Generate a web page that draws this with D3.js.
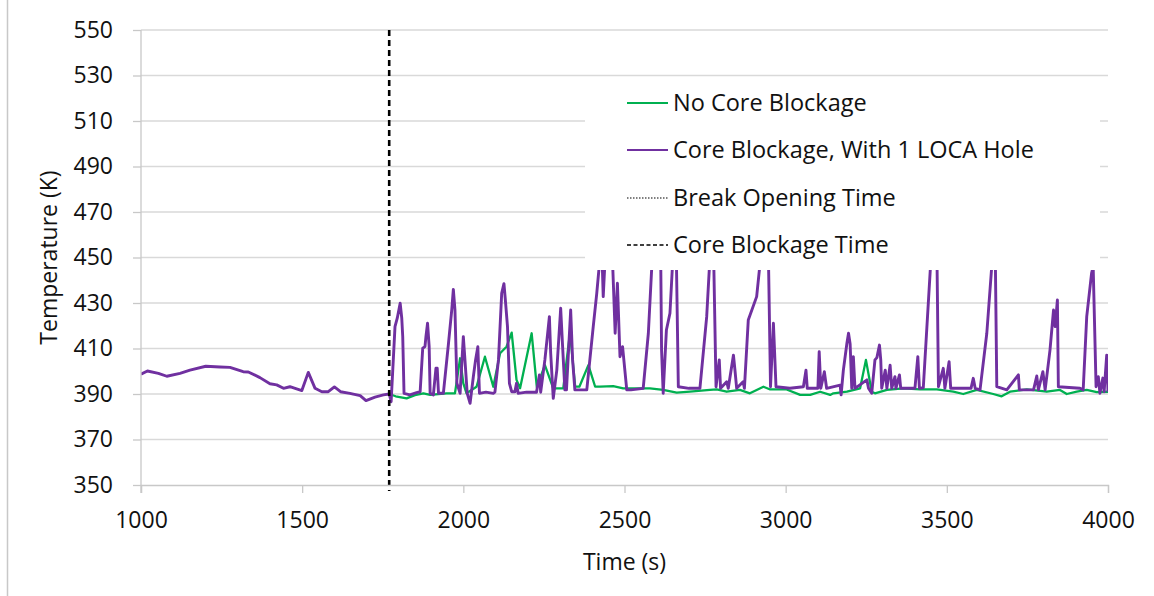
<!DOCTYPE html>
<html>
<head>
<meta charset="utf-8">
<script src="https://cdn.jsdelivr.net/npm/d3@7"></script>
<style>
  body { margin: 0; background: #fff; }
  svg { display: block; }
  text { font-family: "Open Sans", sans-serif; fill: #111; }
</style>
</head>
<body>
<svg id="chart" width="1154" height="596"></svg>
<script>
// Core blockage case, one LOCA hole: time (s) and temperature (K)
const blockedTime = [
  1000, 1020, 1054, 1080, 1121, 1152, 1201, 1245, 1276, 1317, 1333, 1369, 1400, 1421, 1442, 1462,
  1499, 1519, 1540, 1561, 1581, 1600, 1619, 1648, 1680, 1698, 1726, 1752, 1770, 1776, 1788, 1795,
  1804, 1809, 1812, 1816, 1834, 1855, 1866, 1874, 1881, 1884, 1889, 1894, 1897, 1907, 1915, 1919,
  1923, 1938, 1954, 1964, 1969, 1974, 1980, 1990, 2000, 2005, 2012, 2021, 2031, 2038, 2045, 2050,
  2070, 2093, 2098, 2109, 2119, 2126, 2130, 2137, 2143, 2150, 2160, 2165, 2170, 2196, 2227, 2236,
  2240, 2253, 2267, 2271, 2279, 2290, 2302, 2308, 2315, 2320, 2333, 2339, 2346, 2383, 2403, 2414,
  2424, 2430, 2434, 2440, 2450, 2463, 2471, 2478, 2486, 2494, 2507, 2520, 2558, 2574, 2589, 2612,
  2615, 2620, 2630, 2641, 2652, 2660, 2667, 2700, 2734, 2755, 2767, 2776, 2784, 2794, 2798, 2817,
  2822, 2838, 2843, 2848, 2868, 2872, 2884, 2910, 2926, 2946, 2953, 2962, 2970, 3013, 3055, 3063,
  3067, 3100, 3104, 3109, 3120, 3127, 3169, 3172, 3179, 3190, 3195, 3200, 3205, 3210, 3215, 3252,
  3257, 3267, 3277, 3283, 3291, 3295, 3298, 3309, 3314, 3324, 3329, 3339, 3342, 3353, 3357, 3401,
  3410, 3415, 3427, 3453, 3469, 3474, 3489, 3494, 3507, 3512, 3541, 3575, 3582, 3588, 3603, 3624,
  3644, 3650, 3655, 3686, 3722, 3725, 3769, 3779, 3784, 3798, 3805, 3820, 3831, 3836, 3843, 3846,
  3913, 3923, 3934, 3949, 3954, 3963, 3970, 3975, 3984, 3988, 3996, 4000
];
const blockedTemp = [
  398.7, 400.1, 399.1, 397.8, 399.1, 400.5, 402.2, 401.9, 401.7, 399.8, 399.7, 397.2, 394.5, 394.0, 392.5, 393.2,
  391.5, 399.5, 392.5, 391.0, 391.0, 393.1, 391.0, 390.3, 389.3, 387.1, 388.6, 389.6, 390.0, 386.6, 419.6, 423.3,
  429.9, 423.3, 415.2, 390.3, 389.6, 390.6, 391.0, 410.1, 410.8, 415.2, 421.1, 410.8, 390.3, 389.6, 401.3, 401.3,
  390.3, 390.3, 412.3, 426.9, 436.0, 427.0, 394.7, 390.3, 415.2, 405.0, 390.3, 385.9, 397.6, 405.0, 410.8, 390.3,
  390.8, 390.3, 390.8, 405.0, 434.3, 438.5, 432.0, 419.6, 394.7, 391.0, 391.0, 394.7, 390.3, 390.8, 390.8, 398.4,
  390.8, 405.0, 424.0, 407.9, 388.1, 400.5, 427.7, 410.8, 391.8, 391.8, 426.9, 405.0, 391.8, 391.8, 419.6, 434.3,
  450.0, 452.0, 432.8, 450.0, 455.0, 448.0, 416.7, 438.7, 406.4, 410.8, 391.8, 391.8, 392.5, 416.7, 458.0, 455.0,
  409.3, 390.3, 418.1, 425.5, 455.0, 458.0, 393.2, 392.5, 392.5, 424.0, 455.0, 455.0, 393.2, 405.0, 392.5, 395.4,
  392.5, 407.1, 400.0, 392.5, 395.4, 392.5, 422.5, 432.8, 455.0, 455.0, 393.2, 421.1, 393.2, 392.5, 393.2, 400.5,
  392.5, 392.5, 408.6, 392.5, 399.8, 392.5, 393.9, 389.6, 400.5, 412.3, 416.7, 412.0, 392.5, 406.4, 392.5, 396.2,
  392.5, 390.3, 405.0, 406.0, 411.5, 405.0, 392.5, 400.5, 392.5, 402.7, 392.5, 397.6, 392.5, 398.4, 392.5, 392.5,
  406.4, 392.5, 392.8, 455.0, 455.0, 393.2, 401.3, 392.5, 404.2, 392.5, 392.5, 392.5, 396.9, 392.5, 391.8, 416.7,
  455.0, 455.0, 393.2, 391.8, 398.4, 391.8, 391.8, 397.9, 391.8, 399.8, 391.8, 409.3, 426.9, 419.6, 431.3, 393.2,
  392.5, 391.8, 424.0, 443.0, 446.0, 393.2, 397.6, 390.3, 397.0, 391.0, 407.1, 391.0
];

// Reference case without core blockage
const openTime = [
  1770, 1790, 1824, 1850, 1876, 1897, 1948, 1974, 1990, 2000, 2010, 2041, 2067, 2093, 2114, 2134,
  2150, 2165, 2176, 2212, 2228, 2253, 2279, 2310, 2331, 2347, 2360, 2388, 2409, 2424, 2465, 2496,
  2527, 2579, 2620, 2662, 2703, 2765, 2786, 2817, 2858, 2889, 2931, 2952, 3003, 3045, 3076, 3107,
  3138, 3148, 3190, 3231, 3249, 3267, 3277, 3314, 3365, 3417, 3469, 3520, 3551, 3593, 3644, 3670,
  3696, 3748, 3810, 3851, 3872, 3903, 3934, 3965, 4000
];
const openTemp = [
  390.0, 389.0, 388.1, 389.5, 390.3, 389.6, 390.3, 390.3, 405.7, 394.7, 390.3, 393.2, 406.4, 393.2, 407.9, 410.8,
  417.0, 396.2, 392.5, 416.7, 393.0, 402.7, 392.5, 392.5, 417.0, 393.2, 393.2, 402.7, 393.2, 393.2, 393.5, 392.5,
  392.5, 392.5, 391.8, 390.6, 391.0, 391.8, 392.0, 391.0, 391.8, 390.3, 393.2, 392.0, 392.0, 389.6, 389.6, 391.0,
  389.6, 390.3, 391.0, 392.5, 405.0, 391.0, 390.3, 391.8, 392.5, 392.0, 392.0, 391.0, 390.0, 391.8, 390.0, 389.0,
  391.0, 392.0, 391.0, 391.8, 390.0, 391.0, 391.8, 390.8, 391.0
];

const coreBlockageTime = 1770;
const xTickValues = [1000, 1500, 2000, 2500, 3000, 3500, 4000];
const yTickValues = [350, 370, 390, 410, 430, 450, 470, 490, 510, 530, 550];
const seriesLabels = [
  "No Core Blockage",
  "Core Blockage, With 1 LOCA Hole",
  "Break Opening Time",
  "Core Blockage Time"
];

const margin = { left: 141, top: 30, right: 46, bottom: 111 };
const W = 1154, H = 596;
const innerW = W - margin.left - margin.right;
const innerH = H - margin.top - margin.bottom;

const svg = d3.select("#chart");

// page border line on the left
svg.append("line")
  .attr("x1", 7.5).attr("x2", 7.5).attr("y1", 0).attr("y2", H)
  .attr("stroke", "#c8c8c8").attr("stroke-width", 1.5);

const g = svg.append("g").attr("transform", `translate(${margin.left},${margin.top})`);

const x = d3.scaleLinear().domain([1000, 4000]).range([0, innerW]);
const y = d3.scaleLinear().domain([350, 550]).range([innerH, 0]);

// horizontal gridlines
g.append("g").selectAll("line")
  .data(yTickValues.slice(1))
  .join("line")
  .attr("x1", 0).attr("x2", innerW)
  .attr("y1", d => y(d)).attr("y2", d => y(d))
  .attr("stroke", "#d9d9d9").attr("stroke-width", 1.3);

svg.append("clipPath").attr("id", "plotClip")
  .append("rect").attr("width", innerW).attr("height", innerH);

const lineGen = (times, temps) => d3.line()
  .x(i => x(times[i]))
  .y(i => y(temps[i]))(d3.range(times.length));

const plot = g.append("g").attr("clip-path", "url(#plotClip)");

plot.append("path")
  .attr("d", lineGen(openTime, openTemp))
  .attr("fill", "none").attr("stroke", "#00b050").attr("stroke-width", 2.3)
  .attr("stroke-linejoin", "round");

plot.append("path")
  .attr("d", lineGen(blockedTime, blockedTemp))
  .attr("fill", "none").attr("stroke", "#7030a0").attr("stroke-width", 2.9)
  .attr("stroke-linejoin", "round");

// core blockage marker
g.append("line")
  .attr("x1", x(coreBlockageTime)).attr("x2", x(coreBlockageTime))
  .attr("y1", 0).attr("y2", innerH + 6)
  .attr("stroke", "#000").attr("stroke-width", 2.6)
  .attr("stroke-dasharray", "6,4");

// axes
const xAxis = g.append("g").attr("transform", `translate(0,${innerH})`)
  .call(d3.axisBottom(x).tickValues(xTickValues).tickSize(8).tickPadding(19).tickFormat(d3.format("d")));
const yAxis = g.append("g")
  .call(d3.axisLeft(y).tickValues(yTickValues).tickSize(8).tickPadding(20).tickFormat(d3.format("d")));

[xAxis, yAxis].forEach(a => {
  a.select(".domain").attr("stroke", "#c8c8c8").attr("stroke-width", 1.3);
  a.selectAll(".tick line").attr("stroke", "#c8c8c8").attr("stroke-width", 1.3);
  a.selectAll(".tick text")
    .attr("font-family", "'Open Sans', sans-serif")
    .attr("font-size", 23).attr("fill", "#111");
});
yAxis.select(".domain").attr("d", `M0,${innerH + 8}V0`);

// axis titles
svg.append("text")
  .attr("x", margin.left + innerW / 2).attr("y", 570)
  .attr("text-anchor", "middle").attr("font-size", 23)
  .text("Time (s)");

svg.append("text")
  .attr("transform", `translate(57,${margin.top + innerH / 2}) rotate(-90)`)
  .attr("text-anchor", "middle").attr("font-size", 23)
  .text("Temperature (K)");

// legend
const legend = svg.append("g");
legend.append("rect")
  .attr("x", 585).attr("y", 84).attr("width", 515).attr("height", 186)
  .attr("fill", "#fff");

const legendStyles = [
  { stroke: "#00b050", width: 2.2, dash: null },
  { stroke: "#7030a0", width: 2.2, dash: null },
  { stroke: "#000", width: 1.2, dash: "1.5,1.5" },
  { stroke: "#000", width: 1.6, dash: "4,2.5" }
];
const rowY = [103, 150, 198, 245];

const items = legend.selectAll("g.item")
  .data(seriesLabels)
  .join("g").attr("class", "item")
  .attr("transform", (d, i) => `translate(627,${rowY[i]})`);

items.append("line")
  .attr("x1", 0).attr("x2", 41).attr("y1", 0).attr("y2", 0)
  .attr("stroke", (d, i) => legendStyles[i].stroke)
  .attr("stroke-width", (d, i) => legendStyles[i].width)
  .attr("stroke-dasharray", (d, i) => legendStyles[i].dash);

items.append("text")
  .attr("x", 46).attr("y", 0).attr("dy", "0.35em")
  .attr("font-size", 23.5)
  .text(d => d);
</script>
</body>
</html>
